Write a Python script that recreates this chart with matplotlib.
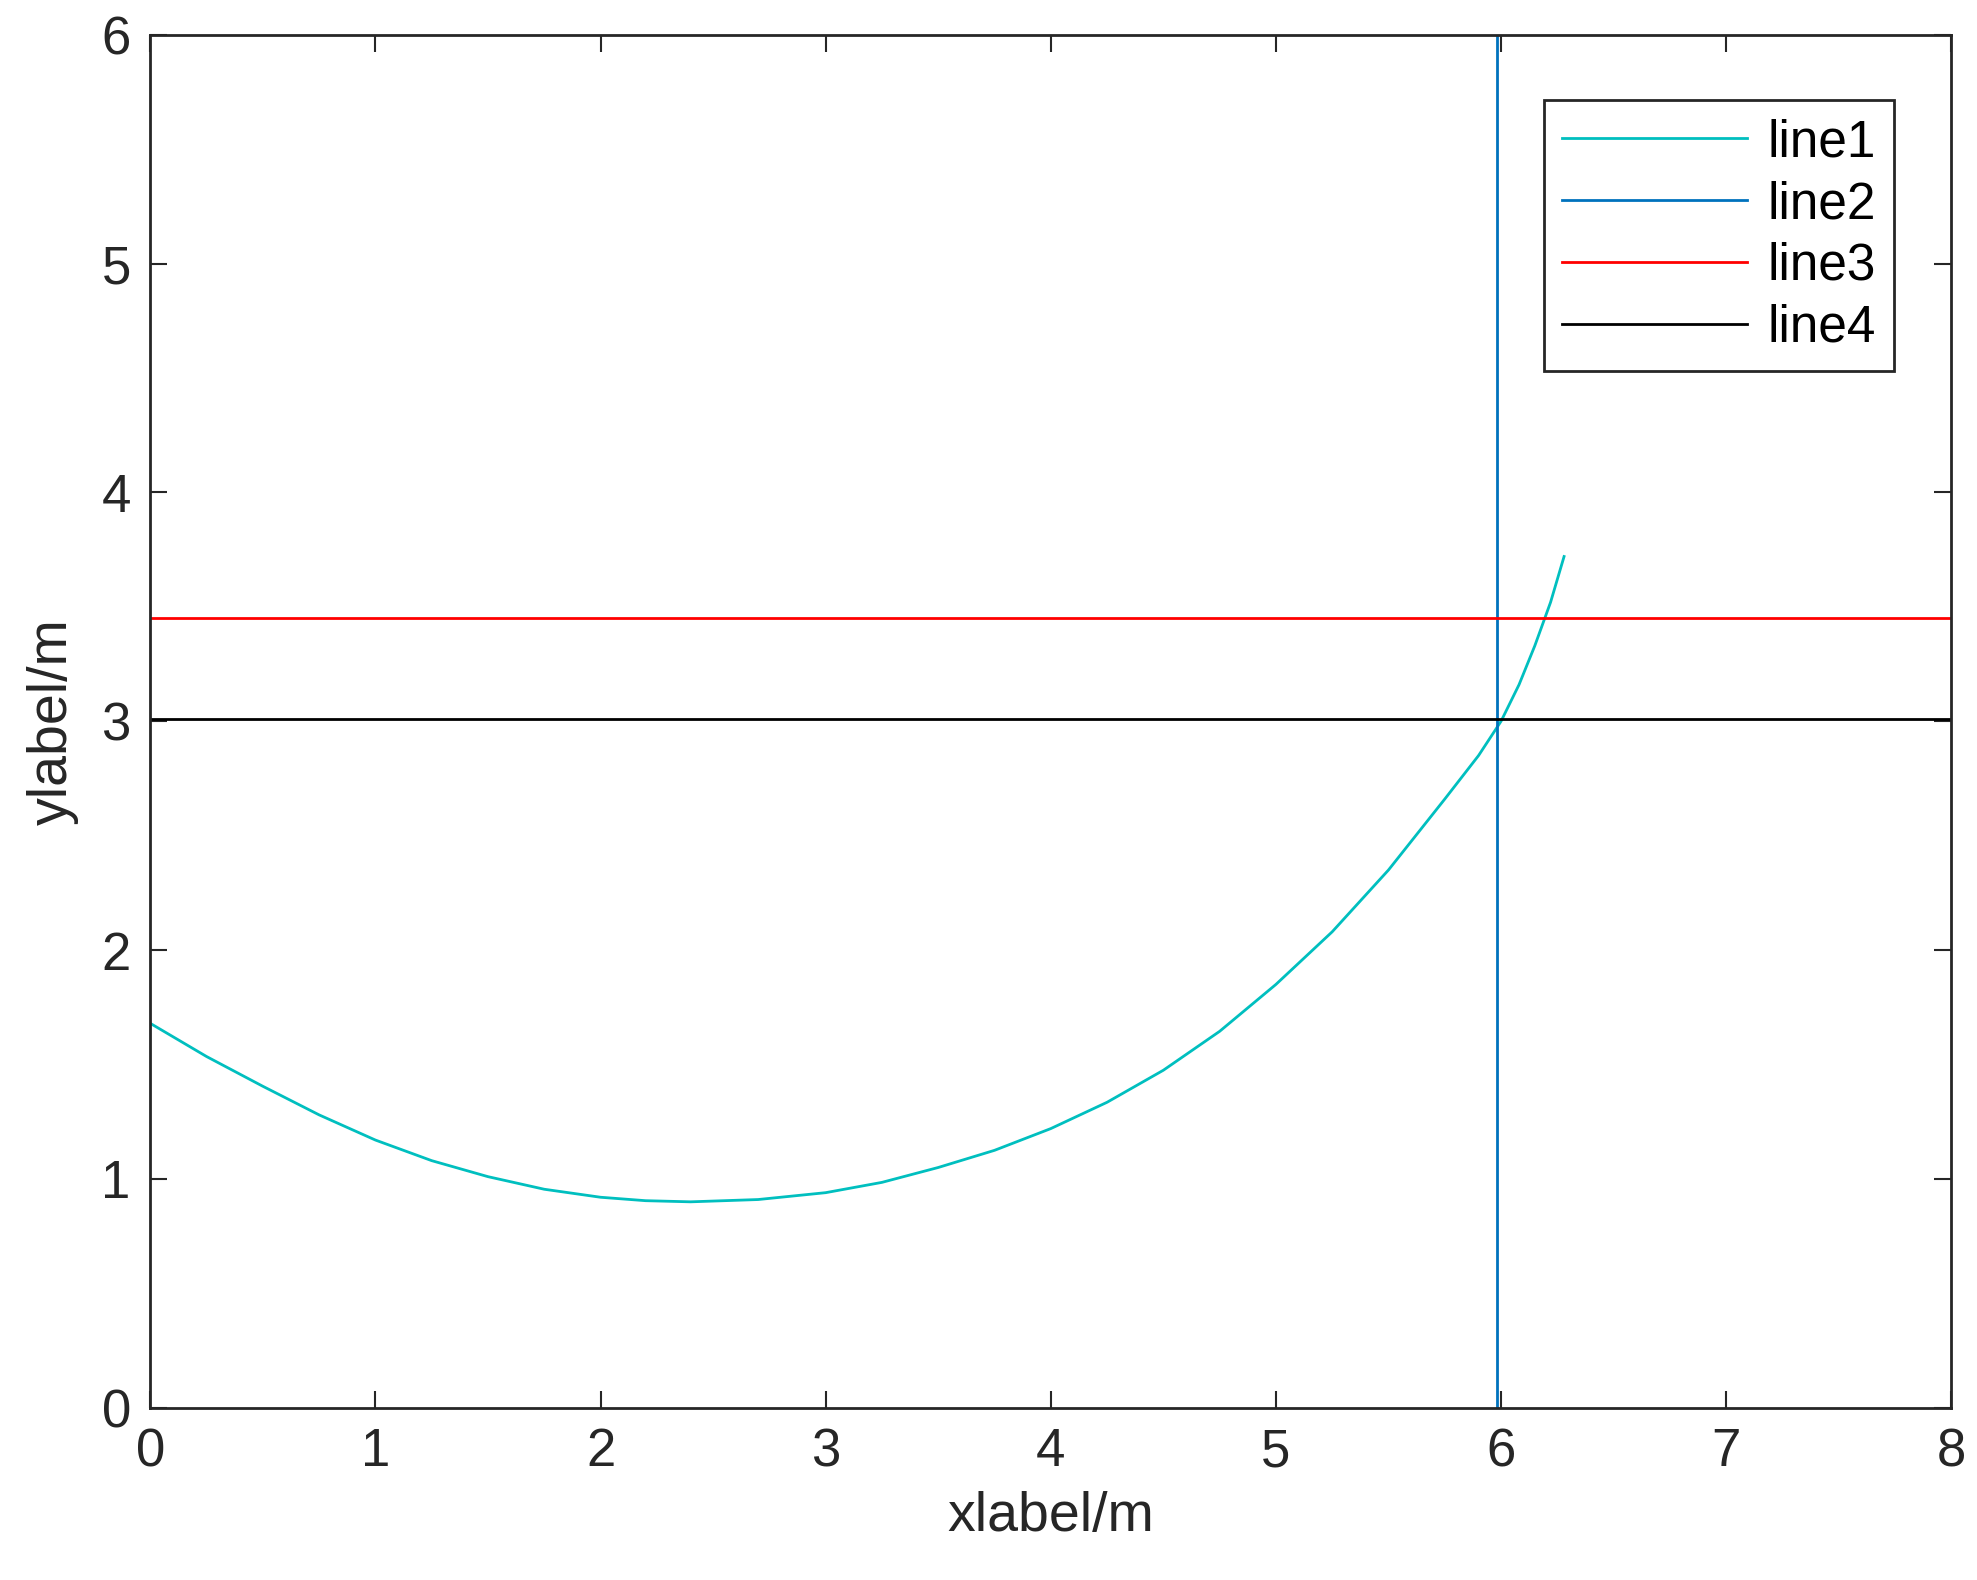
import matplotlib
matplotlib.use('Agg')
import matplotlib.pyplot as plt

# curve points
x1 = [0, 0.25, 0.5, 0.75, 1.0, 1.25, 1.5, 1.75, 2.0, 2.2, 2.4, 2.7, 3.0, 3.25, 3.5,
      3.75, 4.0, 4.25, 4.5, 4.75, 5.0, 5.25, 5.5, 5.75, 5.9, 6.0, 6.08, 6.15, 6.22, 6.28]
y1 = [1.68, 1.535, 1.405, 1.28, 1.17, 1.08, 1.01, 0.955, 0.92, 0.905, 0.90, 0.91, 0.94, 0.985, 1.05,
      1.125, 1.22, 1.335, 1.475, 1.645, 1.85, 2.08, 2.35, 2.66, 2.85, 3.00, 3.16, 3.33, 3.52, 3.72]
x_vert = 5.98
y_red = 3.45
y_black = 3.01

plt.rcParams['font.family'] = ['Liberation Sans', 'DejaVu Sans']
fig = plt.figure(figsize=(19.77, 15.8), dpi=100)
ax = fig.add_axes([0.076, 0.109, 0.911, 0.869])

ax.plot(x1, y1, color='#00BFBF', lw=2.0, label='line1')
ax.axvline(x_vert, color='#0072BD', lw=2.0, label='line2')
ax.axhline(y_red, color='#FF0000', lw=2.0, label='line3')
ax.axhline(y_black, color='#000000', lw=2.0, label='line4')

ax.set_xlim(0, 8)
ax.set_ylim(0, 6)
ax.set_xticks(range(0, 9))
ax.set_yticks(range(0, 7))
ax.tick_params(direction='in', length=12, width=1.5, labelsize=38, pad=14,
               top=True, right=True, colors='#262626')
for s in ax.spines.values():
    s.set_linewidth(2)
    s.set_color('#262626')
ax.set_xlabel('xlabel/m', fontsize=40, color='#262626', labelpad=10)
ax.set_ylabel('ylabel/m', fontsize=40, color='#262626', labelpad=16)

leg = ax.legend(loc='upper right', fontsize=37, fancybox=False, framealpha=1,
                edgecolor='#262626', handlelength=3.6, borderpad=0.35,
                labelspacing=0.25, handletextpad=0.4, bbox_to_anchor=(0.9825, 0.971))
leg.get_frame().set_linewidth(2)

fig.savefig('out.png', dpi=100)
